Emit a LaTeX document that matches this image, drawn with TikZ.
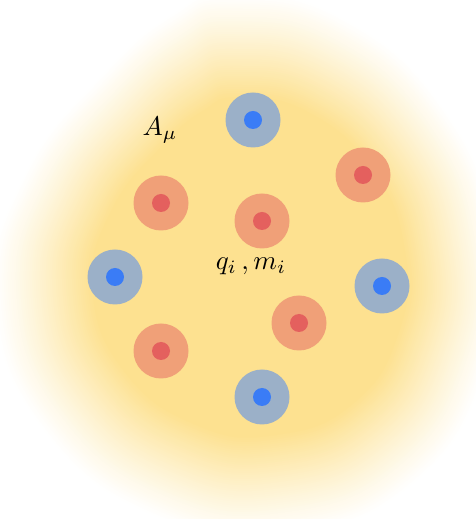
\documentclass[tikz,border=0pt]{standalone}
\definecolor{yel}{RGB}{253,225,144}
\definecolor{redout}{RGB}{240,160,120}
\definecolor{redin}{RGB}{228,96,94}
\definecolor{blueout}{RGB}{155,176,200}
\definecolor{bluein}{RGB}{58,124,246}
\tikzset{
  outerdisc/.style={circle, minimum size=55pt, inner sep=0pt},
  innerdisc/.style={circle, minimum size=18pt, inner sep=0pt},
  poscharge/.style={outerdisc, fill=redout},
  poscore/.style={innerdisc, fill=redin},
  negcharge/.style={outerdisc, fill=blueout},
  negcore/.style={innerdisc, fill=bluein},
  mathlabel/.style={inner sep=0pt, scale=2.7}
}
\begin{document}
\begin{tikzpicture}[x=1pt,y=1pt]
\useasboundingbox (0,0) rectangle (476,519);
% blurred field blob
\foreach \k in {0,...,50}{
  \pgfmathsetmacro{\s}{1-0.38*\k/50}
  \pgfmathsetmacro{\p}{100*(\k/50)^1.15}
  \colorlet{lay}{yel!\p!white}
  \begin{scope}[shift={(255,249)}, scale=\s]
    \fill[lay] plot[smooth cycle, tension=0.8] coordinates {
      (-25,278) (85,255) (190,162) (242,30) (232,-100) (160,-214) (35,-266)
      (-95,-250) (-212,-162) (-262,-30) (-232,95) (-152,198) (-82,258)};
  \end{scope}
}
% charges
\node[negcharge] (b1) at (253,399) {};
\node[negcore] (b1c) at (b1) {};
\node[negcharge] (b2) at (115,242) {};
\node[negcore] (b2c) at (b2) {};
\node[negcharge] (b3) at (382,233) {};
\node[negcore] (b3c) at (b3) {};
\node[negcharge] (b4) at (262,122) {};
\node[negcore] (b4c) at (b4) {};
\node[poscharge] (r1) at (161,316) {};
\node[poscore] (r1c) at (r1) {};
\node[poscharge] (r2) at (262,298) {};
\node[poscore] (r2c) at (r2) {};
\node[poscharge] (r3) at (363,344) {};
\node[poscore] (r3c) at (r3) {};
\node[poscharge] (r4) at (299,196) {};
\node[poscore] (r4c) at (r4) {};
\node[poscharge] (r5) at (161,168) {};
\node[poscore] (r5c) at (r5) {};
% labels
\node[mathlabel] (A) at (160,389) {$A_\mu$};
\node[mathlabel] (q) at (251,253) {$q_i\,,m_i$};
\end{tikzpicture}
\end{document}
